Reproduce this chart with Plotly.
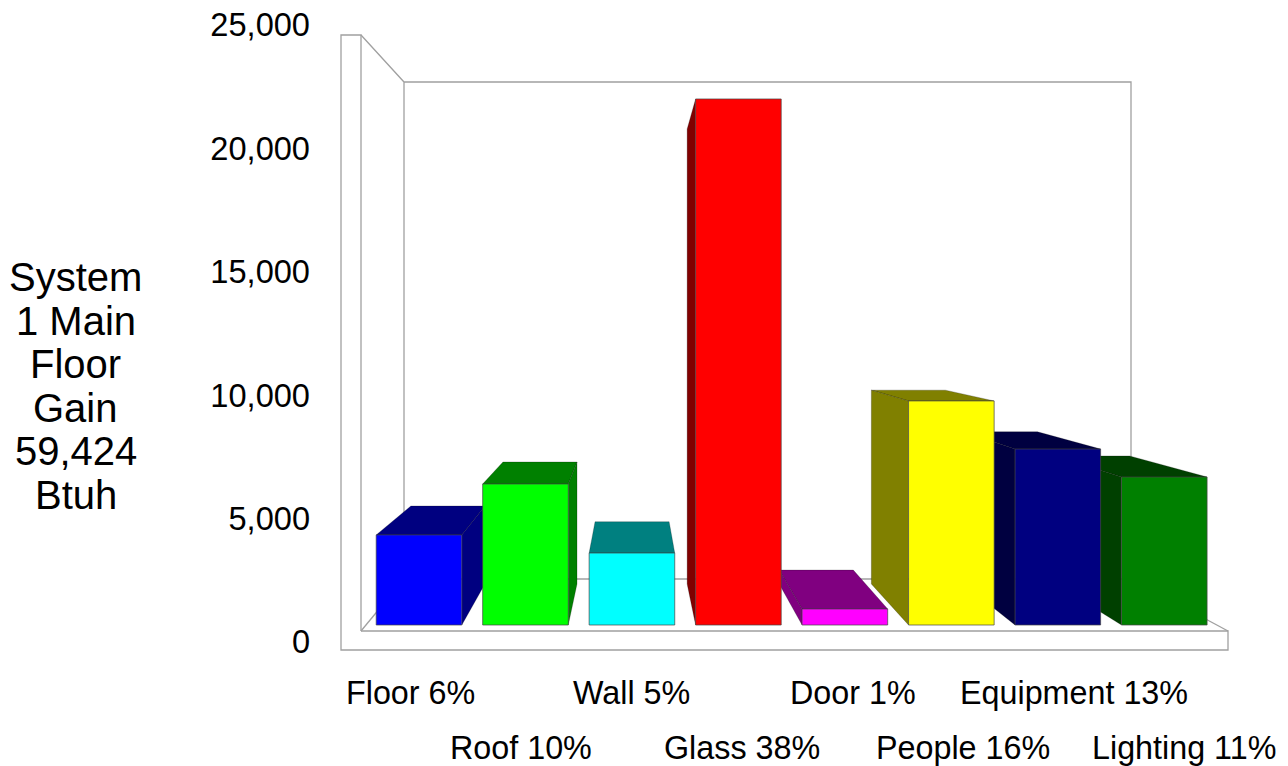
import plotly.graph_objects as go

# Heat gain per component (Btuh)
categories = ["Floor", "Roof", "Wall", "Glass", "Door", "People", "Equipment", "Lighting"]
percents = [6, 10, 5, 38, 1, 16, 13, 11]
gains = [3850, 6025, 3075, 22480, 685, 9575, 7520, 6325]
front_colors = ["#0000ff", "#00ff00", "#00ffff", "#ff0000", "#ff00ff", "#ffff00", "#000080", "#008000"]
shade_colors = ["#000080", "#008000", "#008080", "#800000", "#800080", "#808000", "#000040", "#004000"]
tick_values = [0, 5000, 10000, 15000, 20000, 25000]
title_lines = ["System", "1 Main", "Floor", "Gain", "59,424", "Btuh"]

FONT = "Liberation Sans, Arial, sans-serif"

# Plot frame on the page, in pixels
LEFT, RIGHT, TOP, BOTTOM = 341, 1228, 25, 642
PAGE_W, PAGE_H = 1288, 766

# Bar layout: one slot per category; first bar centred at FIRST_BAR px
FIRST_BAR, SLOT = 419, 106.47
BAR_W = 85.6 / SLOT
# Bar value scale (px per Btuh) and the pixel row of the bar feet
BAR_SCALE, BAR_FOOT = 0.0234, 625

# Perspective of the fake 3D: eye point and back-face shrink factor
EYE_PX, EYE_PY, DEPTH = 633, 321, 0.865
eye_x = (EYE_PX - FIRST_BAR) / SLOT
eye_v = (BAR_FOOT - EYE_PY) / BAR_SCALE


def back(x, v):
    """Project a front-face point onto the bar's back face."""
    return eye_x + DEPTH * (x - eye_x), eye_v + DEPTH * (v - eye_v)


def paper_x(px):
    return (px - LEFT) / (RIGHT - LEFT)


def paper_y(py):
    return (BOTTOM - py) / (BOTTOM - TOP)


def slot_x(px):
    return (px - FIRST_BAR) / SLOT


def wall_path(points):
    return "M" + " L".join(f"{paper_x(x):.5f},{paper_y(y):.5f}" for x, y in points)


fig = go.Figure()

# Carrier for the value axis labels
fig.add_trace(go.Scatter(x=[slot_x(LEFT)] * len(tick_values), y=tick_values, mode="none",
                         showlegend=False, hoverinfo="skip", xaxis="x", yaxis="y"))


def face(points, color):
    xs, vs = zip(*points)
    fig.add_trace(go.Scatter(x=list(xs) + [xs[0]], y=list(vs) + [vs[0]], mode="lines",
                             fill="toself", fillcolor=color,
                             line=dict(color="rgba(0,0,0,0.22)", width=1),
                             showlegend=False, hoverinfo="skip", cliponaxis=False,
                             xaxis="x", yaxis="y2"))


# Side and top faces, innermost bars first so the outer ones overlap them
order = sorted(range(len(gains)), key=lambda i: abs(i - eye_x))
for i in order:
    v = gains[i]
    xl, xr = i - BAR_W / 2, i + BAR_W / 2
    if v < eye_v:
        face([(xl, v), (xr, v), back(xr, v), back(xl, v)], shade_colors[i])
    if xl > eye_x:
        face([(xl, 0), (xl, v), back(xl, v), back(xl, 0)], shade_colors[i])
    if xr < eye_x:
        face([(xr, 0), (xr, v), back(xr, v), back(xr, 0)], shade_colors[i])

# Front faces
fig.add_trace(go.Bar(x=list(range(len(gains))), y=gains, width=BAR_W,
                     marker=dict(color=front_colors, line=dict(color="rgba(70,70,70,0.7)", width=1)),
                     showlegend=False, hoverinfo="skip", xaxis="x", yaxis="y3"))

# Chart box: side wall, back wall and floor
line = dict(color="#a0a0a0", width=1.3)
walls = [
    [(361, 631), (361, 35), (341, 35), (341, 650), (1228, 650), (1228, 631), (361, 631)],
    [(361, 35), (404, 82), (1131, 82), (1131, 579), (404, 579), (404, 82)],
    [(361, 631), (404, 579)],
    [(1228, 631), (1131, 579)],
]
shapes = [dict(type="path", xref="paper", yref="paper", path=wall_path(p), line=line, layer="below")
          for p in walls]

annotations = []
# Category labels on two staggered rows
for i, (name, pct) in enumerate(zip(categories, percents)):
    row_y = 693 if i % 2 == 0 else 748
    annotations.append(dict(text=f"{name} {pct}%", xref="x", yref="paper",
                            x=slot_x(410.5 + 110.5 * i), y=paper_y(row_y),
                            xanchor="center", yanchor="middle", showarrow=False,
                            font=dict(family=FONT, size=32.3, color="#000000")))
# Left-hand caption
for i, text in enumerate(title_lines):
    annotations.append(dict(text=text, xref="paper", yref="paper",
                            x=paper_x(75.5), y=paper_y(277 + 43.6 * i),
                            xanchor="center", yanchor="middle", showarrow=False,
                            font=dict(family=FONT, size=40, color="#000000")))

bar_range = [(BAR_FOOT - BOTTOM) / BAR_SCALE, (BAR_FOOT - TOP) / BAR_SCALE]
hidden = dict(visible=False, overlaying="y", range=bar_range, fixedrange=True)

fig.update_layout(
    width=PAGE_W, height=PAGE_H,
    margin=dict(l=LEFT, r=PAGE_W - RIGHT, t=TOP, b=PAGE_H - BOTTOM, pad=0),
    paper_bgcolor="white", plot_bgcolor="rgba(0,0,0,0)",
    showlegend=False, shapes=shapes, annotations=annotations,
    xaxis=dict(range=[slot_x(LEFT), slot_x(RIGHT)], visible=False, fixedrange=True, automargin=False),
    yaxis=dict(range=[0, 25000], tickvals=tick_values, tickformat=",d", showgrid=False,
               zeroline=False, showline=False, ticks="", ticklabelstandoff=30, automargin=False,
               tickfont=dict(family=FONT, size=32.6, color="#000000"), fixedrange=True),
    yaxis2=hidden, yaxis3=hidden,
)

fig.write_html("out.html", config=dict(displayModeBar=False))
